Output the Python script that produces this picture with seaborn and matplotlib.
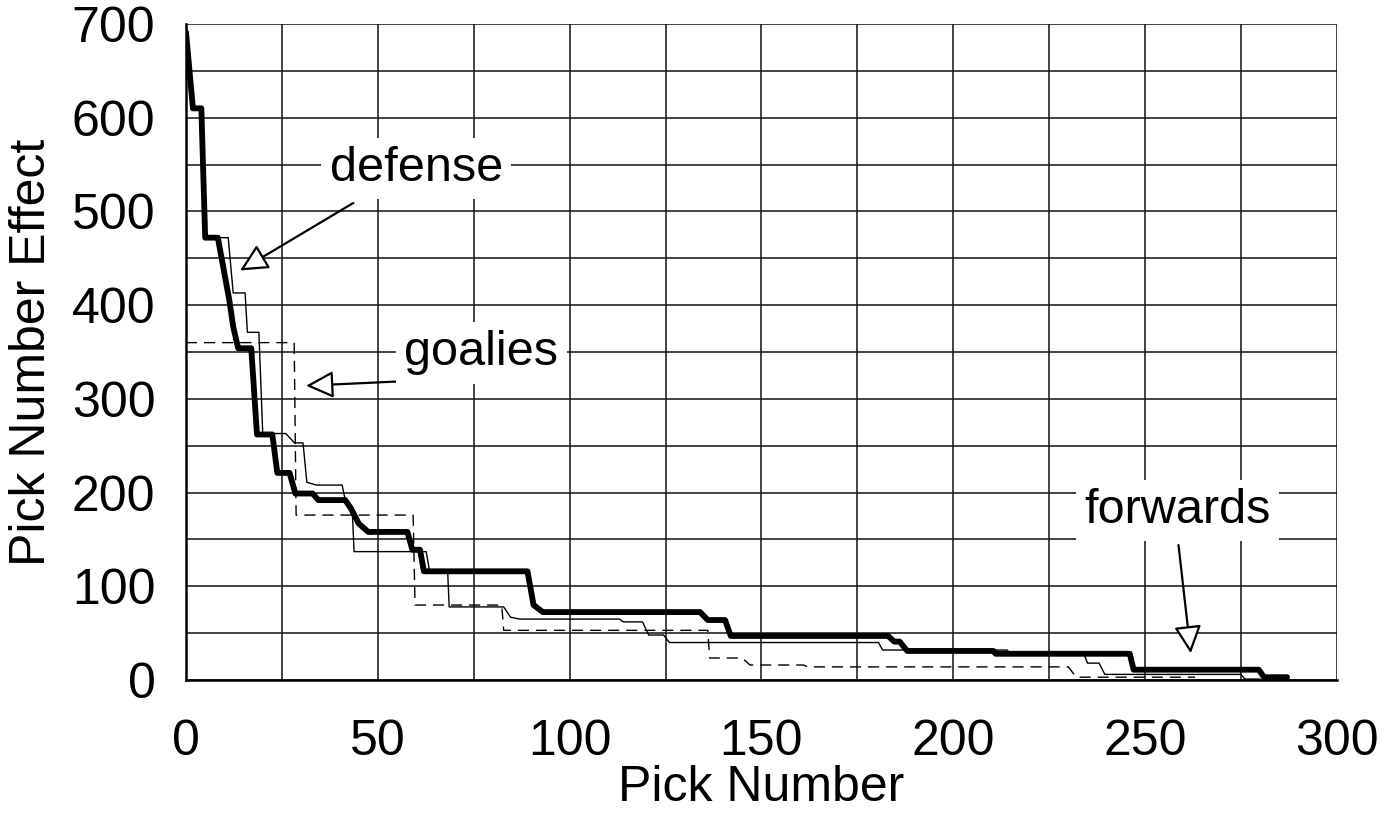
import matplotlib
matplotlib.use("Agg")
import matplotlib.pyplot as plt
import seaborn as sns
import pandas as pd

# --- values (vertices of each step curve) ---
forwards_x = [0, 1.8, 4, 5, 8.3, 11.3, 12.3, 13.6, 17, 18.5, 22.5, 23.8, 27, 28.5,
              33, 34.5, 41.5, 43, 45, 47.5, 57.7, 59, 61, 62, 89, 90.6, 93, 134,
              136, 140.5, 142, 183, 184.6, 186, 188, 210.5, 211, 246, 247, 279.6,
              281, 287]
forwards_y = [691, 610, 610, 472, 472, 405, 377, 354, 354, 262, 262, 221, 221, 199,
              199, 192, 192, 183, 167, 158, 158, 139, 139, 116, 116, 80, 72.5, 72.5,
              64, 64, 47, 47, 41, 41, 31, 31, 28, 28, 11, 11,
              3, 3]

defense_x = [0, 1.8, 4, 5, 11, 12.3, 15.4, 16, 19, 20, 26, 28.3, 30.5, 31.5, 34,
             40.7, 41.5, 43.3, 43.8, 62.6, 63.5, 68.2, 68.6, 82.8, 84.6, 87, 113,
             114, 119, 120.6, 124.5, 126, 180.5, 181.6, 214, 215, 234, 235, 238,
             239.5, 275, 276, 280]
defense_y = [691, 610, 610, 472, 472, 413, 413, 371, 371, 263, 263, 253, 253, 211,
             208, 208, 192, 185, 137, 137, 116, 116, 78, 78, 67, 65, 65,
             62, 62, 48, 48, 40, 40, 32, 32, 28, 28, 18, 18,
             6, 6, 1, 1]

goalies_x = [0, 28.2, 28.7, 59.2, 59.7, 82.3, 82.8, 136, 136.5, 145, 147, 161, 162,
             230, 232, 263]
goalies_y = [360, 360, 176, 176, 80, 80, 53, 53, 23.5, 23.5, 16, 16, 14,
             14, 3, 3]

x_ticks = [0, 50, 100, 150, 200, 250, 300]
y_ticks = [0, 100, 200, 300, 400, 500, 600, 700]

sns.set_theme(style="white")
plt.rcParams['font.family'] = ['Liberation Sans', 'DejaVu Sans']
plt.rcParams['text.color'] = 'black'

fig = plt.figure(figsize=(13.84, 8.39), dpi=100)
ax = fig.add_axes([0.1344, 0.1895, 0.8316, 0.7819])

def draw(xs, ys, **kw):
    df = pd.DataFrame({"x": xs, "y": ys})
    sns.lineplot(data=df, x="x", y="y", sort=False, estimator=None, ax=ax, **kw)

draw(goalies_x, goalies_y, color="black", linewidth=1.0, dashes=False,
     linestyle=(0, (8, 5)), zorder=3)
draw(defense_x, defense_y, color="black", linewidth=1.0, zorder=3)
draw(forwards_x, forwards_y, color="black", linewidth=4.2, zorder=4)

ax.set_xlim(0, 300)
ax.set_ylim(0, 700)
ax.set_xticks(range(0, 301, 25))
ax.set_yticks(range(0, 701, 50))
ax.set_xticklabels([str(v) if v in x_ticks else "" for v in range(0, 301, 25)])
ax.set_yticklabels([str(v) if v in y_ticks else "" for v in range(0, 701, 50)])
ax.tick_params(axis="both", length=0, labelsize=36, colors="black")
ax.tick_params(axis="x", pad=28)
ax.tick_params(axis="y", pad=22)
ax.grid(True, color="#111111", linewidth=1.1, zorder=0)
ax.set_axisbelow(True)
for side in ["top", "right"]:
    ax.spines[side].set_visible(False)
for side in ["left", "bottom"]:
    ax.spines[side].set_color("black")
    ax.spines[side].set_linewidth(1.8)

ax.set_xlabel("Pick Number", fontsize=36, color="black", labelpad=0)
ax.set_ylabel("Pick Number Effect", fontsize=36, color="black", labelpad=12)

# --- labels with arrows ---
arrow = dict(arrowstyle="-|>,head_length=0.85,head_width=0.42", facecolor="white",
             edgecolor="black", linewidth=1.6, mutation_scale=20, shrinkA=0, shrinkB=0)
box = dict(facecolor="white", edgecolor="none", pad=6)

ax.annotate("", xy=(14.1, 437), xytext=(43.6, 509), arrowprops=arrow, zorder=6)
ax.annotate("", xy=(31.3, 314), xytext=(62.9, 320), arrowprops=arrow, zorder=6)
ax.annotate("", xy=(261.9, 28.5), xytext=(258.7, 144), arrowprops=arrow, zorder=6)

ax.text(60, 546, "defense", fontsize=35, color="black", ha="center", va="center",
        bbox=box, zorder=7)
ax.text(77, 349, "goalies", fontsize=35, color="black", ha="center", va="center",
        bbox=box, zorder=7)
ax.text(258.5, 181, "forwards", fontsize=35, color="black", ha="center", va="center",
        bbox=box, zorder=7)

fig.savefig("out.png", dpi=100, facecolor="white")
